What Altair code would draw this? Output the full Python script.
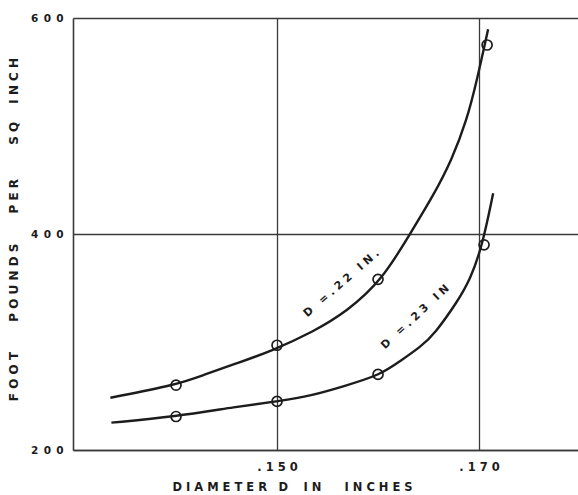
import altair as alt
import pandas as pd

NB = "\u00a0"
EN = "\u2002"
EM = "\u2003"

# ---- data ----
# measured points (circles)
d22_x = [0.140, 0.150, 0.160, 0.1708]
d22_y = [260, 297, 358, 575]
d23_x = [0.140, 0.150, 0.160, 0.1705]
d23_y = [231, 245, 270, 390]

# traced smooth curves
c22_x = [0.1335, 0.1401, 0.1427, 0.1460, 0.1493, 0.1536, 0.1569, 0.1604,
         0.1631, 0.1655, 0.1673, 0.1688, 0.1698, 0.1709]
c22_y = [248.4, 260.5, 269.4, 280.3, 291, 309.5, 328, 357.4,
         399, 436, 468.5, 505.6, 542.6, 589.5]
c23_x = [0.1336, 0.1399, 0.1460, 0.1503, 0.1533, 0.1567, 0.1602,
         0.1622, 0.1642, 0.1656, 0.1679, 0.1691, 0.1703, 0.1714]
c23_y = [225.3, 230.8, 240.1, 245.4, 250, 259.3, 269.4,
         282.4, 295.4, 307.4, 338, 357.4, 388, 437.7]

series_names = ["D =.22 IN.", "D =.23 IN"]
label_x = [0.1564, 0.1637]
label_y = [354, 323]

x_tick_values = [0.150, 0.170]
x_tick_labels = [".150", ".170"]
y_tick_values = [200, 400, 600]
y_tick_labels = ["200", "400", "600"]

x_title = "DIAMETER D IN INCHES"
y_title = "FOOT POUNDS PER SQ INCH"


def letterspace(s, gap=NB, word=EM):
    return word.join(gap.join(w) for w in s.split(" "))


curves = pd.DataFrame({
    "x": c22_x + c23_x,
    "y": c22_y + c23_y,
    "s": [series_names[0]] * len(c22_x) + [series_names[1]] * len(c23_x),
})
points = pd.DataFrame({
    "x": d22_x + d23_x,
    "y": d22_y + d23_y,
    "s": [series_names[0]] * len(d22_x) + [series_names[1]] * len(d23_x),
})
labels = pd.DataFrame({
    "x": label_x,
    "y": label_y,
    "t": [letterspace(n) for n in series_names],
})


def expr_for(values, texts, sep, tol):
    parts = [f"abs(datum.value - {v}) < {tol} ? '{sep.join(t)}'" for v, t in zip(values, texts)]
    return " : ".join(parts) + " : ''"


# titles with hand-lettered spacing
xt_words = x_title.split(" ")
x_title_txt = (NB.join(xt_words[0]) + EM + NB.join(xt_words[1]) + EM + NB
               + NB.join(xt_words[2]) + EM + EM + NB.join(xt_words[3]))
yt_words = y_title.split(" ")
y_gaps = [EM + EM + EN, EM + EM + EN, EM + EM + EN + NB, EM + EN]
y_title_txt = NB.join(yt_words[0])
for g, w in zip(y_gaps, yt_words[1:]):
    y_title_txt += g + NB.join(w)

INK = "#1c1c1c"
GRID = "#3a3a3a"
FONT = "DejaVu Sans"

x_enc = alt.X(
    "x:Q",
    scale=alt.Scale(domain=[0.1298, 0.1798], nice=False, zero=False),
    axis=alt.Axis(
        values=x_tick_values,
        labelExpr=expr_for(x_tick_values, x_tick_labels, NB, 0.0005),
        grid=True, gridColor=GRID, gridWidth=1.3, gridOpacity=1,
        ticks=False, tickSize=0,
        domainColor=GRID, domainWidth=1.6,
        labelFont=FONT, labelFontSize=11.5, labelFontWeight="bold", labelColor=INK, labelPadding=11,
        title=x_title_txt, titleFont=FONT, titleFontSize=11.5, titleFontWeight="bold",
        titleColor=INK, titleX=219, titleY=37, titleBaseline="middle", titleAlign="center",
    ),
)
y_enc = alt.Y(
    "y:Q",
    scale=alt.Scale(domain=[200, 600], nice=False, zero=False),
    axis=alt.Axis(
        values=y_tick_values,
        labelExpr=expr_for(y_tick_values, y_tick_labels, EN, 1),
        grid=True, gridColor=GRID, gridWidth=1.3, gridOpacity=1,
        ticks=False, tickSize=0,
        domainColor=GRID, domainWidth=1.6,
        labelFont=FONT, labelFontSize=10.5, labelFontWeight="bold", labelColor=INK, labelPadding=10,
        title=y_title_txt, titleFont=FONT, titleFontSize=12, titleFontWeight="bold",
        titleColor=INK, titleX=-60, titleY=211, titleAngle=270,
        titleBaseline="middle", titleAlign="center",
    ),
)

line_layer = alt.Chart(curves).mark_line(
    color=INK, strokeWidth=2.4, interpolate="basis"
).encode(x=x_enc, y=y_enc, detail="s:N")

point_layer = alt.Chart(points).mark_point(
    shape="circle", size=100, filled=False, stroke=INK, strokeWidth=1.7, opacity=1
).encode(x="x:Q", y="y:Q")

lab1 = alt.Chart(labels.iloc[[0]]).mark_text(
    angle=319, font=FONT, fontSize=11, fontWeight="bold", color=INK,
    align="center", baseline="middle"
).encode(x="x:Q", y="y:Q", text="t:N")
lab2 = alt.Chart(labels.iloc[[1]]).mark_text(
    angle=317, font=FONT, fontSize=11, fontWeight="bold", color=INK,
    align="center", baseline="middle"
).encode(x="x:Q", y="y:Q", text="t:N")

chart = alt.layer(line_layer, point_layer, lab1, lab2).properties(
    width=505, height=432,
    padding={"left": 73, "top": 18, "right": 0, "bottom": 45},
    autosize=alt.AutoSizeParams(type="none"),
    background="white",
).configure_view(stroke=None)

chart.save("out.html", embed_options={"renderer": "svg", "actions": False})
